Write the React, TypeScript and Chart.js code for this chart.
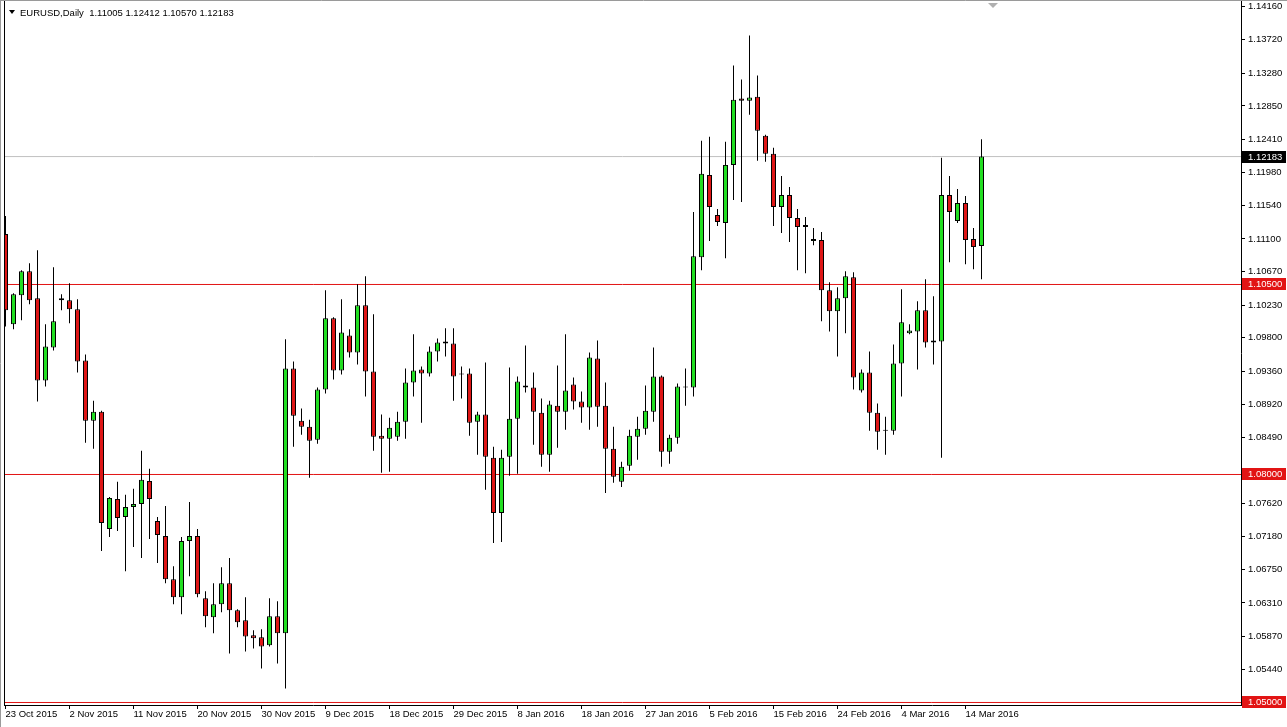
import React, { useEffect, useRef } from "react";
import { Chart, registerables } from "chart.js";

Chart.register(...registerables);

// ---- Data (EURUSD daily) ----
const opens = [
  1.11164, 1.09976, 1.10358, 1.10675, 1.10319, 1.09236, 1.09672, 1.10319, 1.10292, 1.10174,
  1.09500, 1.08708, 1.08827, 1.07283, 1.07679, 1.07441, 1.07573, 1.07613, 1.07916, 1.07388,
  1.07190, 1.06623, 1.06385, 1.07124, 1.07190, 1.06372, 1.06121, 1.06293, 1.06570, 1.06214,
  1.06082, 1.05884, 1.05857, 1.05752, 1.06134, 1.05910, 1.09395, 1.08708, 1.08629, 1.08458,
  1.09118, 1.10055, 1.09368, 1.09830, 1.09606, 1.10226, 1.09355, 1.08510, 1.08471, 1.08497,
  1.08695, 1.09210, 1.09382, 1.09329, 1.09619, 1.09751, 1.09725, 1.09329, 1.09329, 1.08695,
  1.08788, 1.08220, 1.07494, 1.08233, 1.08735, 1.09170, 1.09144, 1.08814, 1.08260, 1.08906,
  1.08827, 1.09184, 1.08959, 1.08880, 1.09527, 1.08906, 1.08339, 1.07903, 1.08114, 1.08497,
  1.08603, 1.08827, 1.09289, 1.08299, 1.08484, 1.09144, 1.09144, 1.10860, 1.11942, 1.11414,
  1.11309, 1.12074, 1.12946, 1.12919, 1.12972, 1.12457, 1.12220, 1.11520, 1.11678, 1.11375,
  1.11256, 1.11071, 1.11084, 1.10424, 1.10147, 1.10319, 1.10596, 1.09104, 1.09342, 1.08814,
  1.08576, 1.08576, 1.09461, 1.09857, 1.09883, 1.10160, 1.09738, 1.09751, 1.11678, 1.11335,
  1.11573, 1.11098, 1.11005,
];
const highs = [
  1.11401, 1.10385, 1.10688, 1.10781, 1.10952, 1.09976, 1.10728, 1.10372, 1.10517, 1.10306,
  1.09580, 1.08972, 1.08840, 1.07705, 1.07903, 1.07732, 1.07811, 1.08312, 1.08075, 1.07441,
  1.07586, 1.06794, 1.07177, 1.07639, 1.07283, 1.06464, 1.06570, 1.06781, 1.06900, 1.06227,
  1.06385, 1.05950, 1.05963, 1.06372, 1.06332, 1.09778, 1.09487, 1.08867, 1.08722, 1.09144,
  1.10424, 1.10068, 1.10306, 1.09910, 1.10504, 1.10609, 1.10108, 1.08788, 1.08748, 1.08827,
  1.09395, 1.09844, 1.09421, 1.09685, 1.09791, 1.09923, 1.09923, 1.09421, 1.09395, 1.08827,
  1.09474, 1.08365, 1.08326, 1.09408, 1.09289, 1.09698, 1.09342, 1.08999, 1.08972, 1.09434,
  1.09844, 1.09276, 1.09091, 1.09606, 1.09764, 1.09210, 1.08629, 1.08167, 1.08590, 1.08761,
  1.09170, 1.09672, 1.09302, 1.08524, 1.09197, 1.09395, 1.11454, 1.12391, 1.12444, 1.11494,
  1.12378, 1.13381, 1.13196, 1.13777, 1.13249, 1.12470, 1.12299, 1.11929, 1.11784, 1.11494,
  1.11388, 1.11243, 1.11190, 1.10530, 1.10464, 1.10675, 1.10662, 1.09382, 1.09619, 1.08933,
  1.08761, 1.09712, 1.10438, 1.09976, 1.10279, 1.10570, 1.10345, 1.12167, 1.11929, 1.11758,
  1.11665, 1.11243, 1.12412,
];
const lows = [
  1.09949, 1.09910, 1.10028, 1.10240, 1.08959, 1.09157, 1.09632, 1.10160, 1.09989, 1.09342,
  1.08418, 1.08339, 1.06992, 1.07177, 1.07256, 1.06728, 1.07045, 1.06900, 1.07151, 1.06834,
  1.06570, 1.06293, 1.06161, 1.06662, 1.06385, 1.05989, 1.05910, 1.06187, 1.05646, 1.05989,
  1.05672, 1.05712, 1.05448, 1.05738, 1.05514, 1.05184, 1.08365, 1.08524, 1.07956, 1.08405,
  1.09065, 1.09250, 1.09316, 1.09540, 1.09448, 1.09025, 1.08312, 1.08022, 1.08035, 1.08444,
  1.08471, 1.09025, 1.08682, 1.09289, 1.09487, 1.09553, 1.08972, 1.08999, 1.08510, 1.08260,
  1.07798, 1.07098, 1.07111, 1.07982, 1.08009, 1.09078, 1.08392, 1.08101, 1.08035, 1.08352,
  1.08590, 1.08854, 1.08682, 1.08590, 1.08629, 1.07758, 1.07890, 1.07837, 1.08048, 1.08194,
  1.08524, 1.08695, 1.08101, 1.08141, 1.08405, 1.08906, 1.09025, 1.10688, 1.11071, 1.11269,
  1.10847, 1.11612, 1.11586, 1.12734, 1.12127, 1.12114, 1.11269, 1.11177, 1.11058, 1.10688,
  1.10649, 1.11018, 1.10015, 1.09883, 1.09553, 1.09857, 1.09118, 1.09078, 1.08576, 1.08326,
  1.08260, 1.08524, 1.09025, 1.09844, 1.09382, 1.09672, 1.09448, 1.08220, 1.10794, 1.11309,
  1.10768, 1.10702, 1.10570,
];
const closes = [
  1.10160, 1.10372, 1.10675, 1.10292, 1.09236, 1.09685, 1.10015, 1.10292, 1.10174, 1.09487,
  1.08708, 1.08827, 1.07362, 1.07692, 1.07428, 1.07573, 1.07613, 1.07930, 1.07679, 1.07204,
  1.06623, 1.06385, 1.07124, 1.07190, 1.06425, 1.06134, 1.06293, 1.06570, 1.06214, 1.06055,
  1.05870, 1.05844, 1.05738, 1.06134, 1.05910, 1.09395, 1.08774, 1.08629, 1.08444, 1.09118,
  1.10055, 1.09368, 1.09870, 1.09606, 1.10226, 1.09355, 1.08497, 1.08471, 1.08616, 1.08695,
  1.09210, 1.09368, 1.09329, 1.09619, 1.09738, 1.09725, 1.09289, 1.09316, 1.08682, 1.08788,
  1.08233, 1.07494, 1.08220, 1.08735, 1.09223, 1.09144, 1.08827, 1.08260, 1.08920, 1.08827,
  1.09104, 1.08959, 1.08880, 1.09540, 1.08893, 1.08339, 1.07969, 1.08101, 1.08510, 1.08603,
  1.08840, 1.09289, 1.08299, 1.08484, 1.09157, 1.09157, 1.10873, 1.11956, 1.11520, 1.11322,
  1.12074, 1.12932, 1.12919, 1.12959, 1.12523, 1.12220, 1.11520, 1.11678, 1.11375, 1.11256,
  1.11282, 1.11098, 1.10424, 1.10147, 1.10319, 1.10609, 1.09276, 1.09342, 1.08814, 1.08563,
  1.08590, 1.09461, 1.10002, 1.09896, 1.10160, 1.09738, 1.09764, 1.11678, 1.11454, 1.11573,
  1.11084, 1.10992, 1.12183,
];

const dateLabels = [
  "23 Oct 2015", "2 Nov 2015", "11 Nov 2015", "20 Nov 2015", "30 Nov 2015", "9 Dec 2015",
  "18 Dec 2015", "29 Dec 2015", "8 Jan 2016", "18 Jan 2016", "27 Jan 2016", "5 Feb 2016",
  "15 Feb 2016", "24 Feb 2016", "4 Mar 2016", "14 Mar 2016",
];
const dateTickBars = [0, 8, 16, 24, 32, 40, 48, 56, 64, 72, 80, 88, 96, 104, 112, 120];

const priceTicks = [
  1.1416, 1.1372, 1.1328, 1.1285, 1.1241, 1.1198, 1.1154, 1.111, 1.1067, 1.1023, 1.098,
  1.0936, 1.0892, 1.0849, 1.0762, 1.0718, 1.0675, 1.0631, 1.0587, 1.0544, 1.05,
];

const levelLines = [1.105, 1.08, 1.05];
const currentPrice = 1.12183;
const headerText = "EURUSD,Daily  1.11005 1.12412 1.10570 1.12183";

// ---- Styling constants ----
const BULL = "rgb(34, 222, 34)";
const BEAR = "rgb(222, 22, 22)";
const LEVEL_RED = "rgb(226, 20, 20)";
const FONT_FAMILY = '"Liberation Sans", Arial, sans-serif';
const FONT_SIZE = 9.5;
const X_MIN = -0.1875;
const X_MAX = 154.4375;
const Y_MIN = 1.049671;
const Y_MAX = 1.1423026;

const decorPlugin = {
  id: "mt4decor",
  beforeDraw(chart: any) {
    const { ctx, width, height } = chart;
    ctx.save();
    ctx.fillStyle = "#ffffff";
    ctx.fillRect(0, 0, width, height);
    ctx.restore();
  },
  afterDraw(chart: any) {
    const { ctx, chartArea: ca, width, height } = chart;
    const ys = chart.scales.y;
    ctx.save();
    // window frame
    ctx.strokeStyle = "#9a9a9a";
    ctx.lineWidth = 1;
    ctx.beginPath();
    ctx.moveTo(0, 0.5);
    ctx.lineTo(width, 0.5);
    ctx.moveTo(0.5, 0);
    ctx.lineTo(0.5, height);
    ctx.stroke();
    // chart area left edge
    ctx.strokeStyle = "#000";
    ctx.beginPath();
    ctx.moveTo(ca.left + 0.5, ca.top);
    ctx.lineTo(ca.left + 0.5, ca.bottom);
    ctx.stroke();

    // header
    ctx.fillStyle = "#000";
    ctx.beginPath();
    ctx.moveTo(9, 10);
    ctx.lineTo(15, 10);
    ctx.lineTo(12, 14);
    ctx.closePath();
    ctx.fill();
    ctx.font = `${FONT_SIZE}px ${FONT_FAMILY}`;
    ctx.textBaseline = "middle";
    ctx.textAlign = "left";
    ctx.fillText(headerText, 20, 13);

    // chart shift marker
    ctx.fillStyle = "#b0b0b0";
    ctx.beginPath();
    ctx.moveTo(988, 3);
    ctx.lineTo(998, 3);
    ctx.lineTo(993, 8);
    ctx.closePath();
    ctx.fill();

    // price boxes on the axis
    const boxes = [
      { v: currentPrice, bg: "#000" },
      ...levelLines.map((v) => ({ v, bg: LEVEL_RED })),
    ];
    boxes.forEach((b) => {
      const yc = Math.round(ys.getPixelForValue(b.v));
      ctx.fillStyle = b.bg;
      ctx.fillRect(ca.right + 1, yc - 6, 44, 12);
      ctx.fillStyle = "#fff";
      ctx.fillText(b.v.toFixed(5), ca.right + 7, yc + 0.5);
    });
    ctx.restore();
  },
};

export default function App() {
  const ref = useRef<HTMLCanvasElement>(null);

  useEffect(() => {
    const canvas = ref.current;
    if (!canvas) return;
    const bodyColors = opens.map((o, i) => (closes[i] >= o ? BULL : BEAR));
    const lineSet = (v: number, color: string, order: number) => ({
      type: "line" as const,
      data: [
        { x: X_MIN, y: v },
        { x: X_MAX, y: v },
      ],
      borderColor: color,
      borderWidth: 1,
      pointRadius: 0,
      fill: false,
      order,
    });

    const chart = new Chart(canvas, {
      type: "bar",
      data: {
        datasets: [
          {
            type: "bar",
            label: "body",
            data: opens.map((o, i) => ({ x: i, y: [o, closes[i]] })) as any,
            backgroundColor: bodyColors,
            borderColor: "#000",
            borderWidth: 1,
            borderSkipped: false,
            grouped: false,
            maxBarThickness: 5,
            inflateAmount: 0,
            order: 0,
          } as any,
          {
            type: "bar",
            label: "wick",
            data: lows.map((l, i) => ({ x: i, y: [l, highs[i]] })) as any,
            backgroundColor: "#000",
            borderWidth: 0,
            grouped: false,
            maxBarThickness: 1,
            inflateAmount: 0,
            order: 1,
          } as any,
          ...levelLines.map((v) => lineSet(v, LEVEL_RED, 2)),
          lineSet(currentPrice, "#c0c0c0", 3),
        ] as any,
      },
      options: {
        responsive: false,
        animation: false,
        events: [],
        layout: { autoPadding: false, padding: { left: 4, top: 1, right: 0, bottom: 0 } },
        plugins: {
          legend: { display: false },
          tooltip: { enabled: false },
          title: { display: false },
        },
        scales: {
          x: {
            type: "linear",
            min: X_MIN,
            max: X_MAX,
            offset: false,
            grid: {
              display: true,
              drawOnChartArea: false,
              drawTicks: true,
              tickLength: 4,
              color: "#000",
              offset: false,
            },
            border: { display: true, color: "#000", width: 1 },
            ticks: {
              autoSkip: false,
              maxRotation: 0,
              minRotation: 0,
              align: "start",
              padding: 0,
              color: "#000",
              font: { family: FONT_FAMILY, size: FONT_SIZE },
              callback: (_v: any, i: number) => dateLabels[i] ?? "",
            },
            afterBuildTicks: (scale: any) => {
              scale.ticks = dateTickBars.map((v) => ({ value: v }));
            },
            afterFit: (scale: any) => {
              scale.height = 22;
              scale.paddingLeft = 0;
              scale.paddingRight = 0;
              scale.paddingTop = 0;
              scale.paddingBottom = 0;
            },
          },
          y: {
            type: "linear",
            position: "right",
            min: Y_MIN,
            max: Y_MAX,
            grid: {
              display: true,
              drawOnChartArea: false,
              drawTicks: true,
              tickLength: 4,
              color: "#000",
            },
            border: { display: true, color: "#000", width: 1 },
            ticks: {
              autoSkip: false,
              padding: 3,
              color: "#000",
              font: { family: FONT_FAMILY, size: FONT_SIZE },
              callback: (v: any) => Number(v).toFixed(5),
            },
            afterBuildTicks: (scale: any) => {
              scale.ticks = priceTicks.map((v) => ({ value: v }));
            },
            afterFit: (scale: any) => {
              scale.width = 46;
              scale.paddingLeft = 0;
              scale.paddingRight = 0;
              scale.paddingTop = 0;
              scale.paddingBottom = 0;
            },
          },
        },
      } as any,
      plugins: [decorPlugin],
    });

    return () => chart.destroy();
  }, []);

  return (
    <div
      style={{
        position: "fixed",
        left: 0,
        top: 0,
        width: 1287,
        height: 727,
        background: "#fff",
      }}
    >
      <canvas
        ref={ref}
        width={1287}
        height={727}
        style={{ width: 1287, height: 727, display: "block" }}
      />
    </div>
  );
}
